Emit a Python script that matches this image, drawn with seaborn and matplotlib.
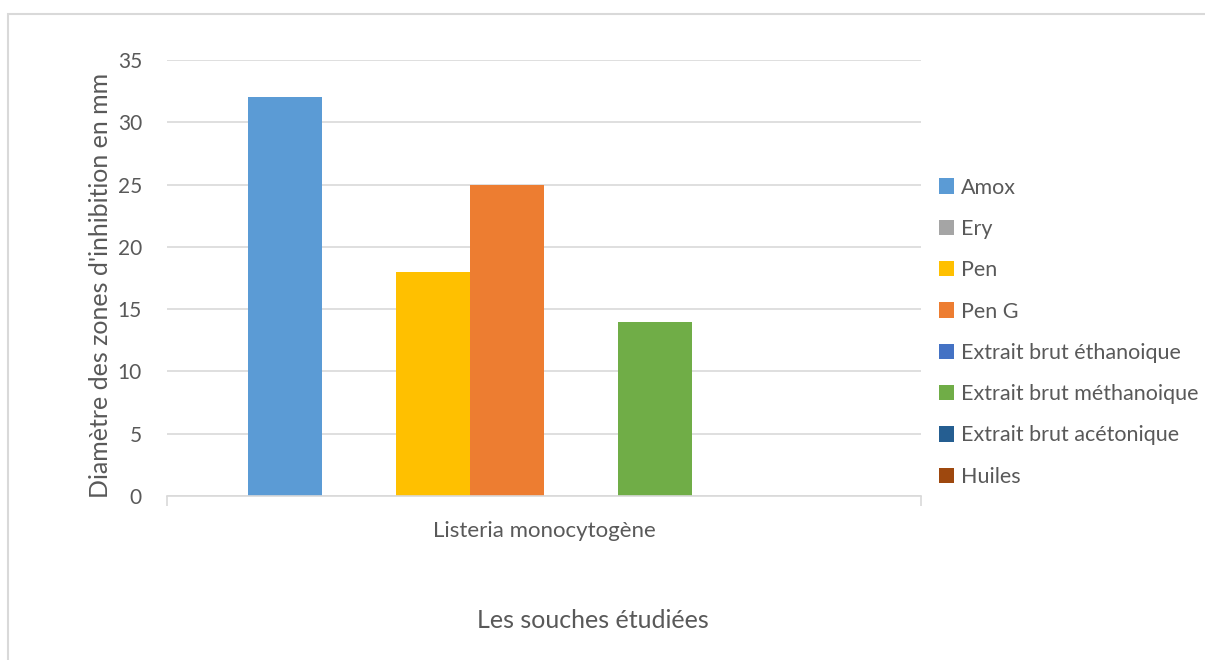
import pandas as pd
import matplotlib.pyplot as plt
import seaborn as sns
from matplotlib.patches import Rectangle, Patch

# donnees
souches = ['Listeria monocytogène']
traitements = ['Amox', 'Ery', 'Pen', 'Pen G', 'Extrait brut éthanoique',
               'Extrait brut méthanoique', 'Extrait brut acétonique', 'Huiles']
diametres = [32, 0, 18, 25, 0, 14, 0, 0]
couleurs = ['#5B9BD5', '#A5A5A5', '#FFC000', '#ED7D31', '#4472C4',
            '#70AD47', '#255E91', '#9E480E']

dados = pd.DataFrame({'souche': souches * len(traitements),
                      'traitement': traitements,
                      'diametre': diametres})

sns.set_theme(style="white")
plt.rcParams['font.family'] = ['Lato', 'DejaVu Sans']
gris = '#595959'

W, H = 1205, 660
x0, x1 = 167, 921
fig = plt.figure(figsize=(W / 100, H / 100), dpi=100)
ax = fig.add_axes([x0 / W, 1 - 496 / H, (x1 - x0) / W, (496 - 60) / H])

sns.barplot(data=dados, x='souche', y='diametre', hue='traitement',
            hue_order=traitements, palette=couleurs, width=0.785,
            saturation=1, linewidth=0, ax=ax, legend=False)

ax.set_xlim(-0.5, 0.5)
ax.set_ylim(0, 35)
ax.set_yticks(range(0, 36, 5))
ax.yaxis.grid(True, color='#D9D9D9', linewidth=1.2)
ax.set_axisbelow(True)
for s in ['top', 'right', 'left']:
    ax.spines[s].set_visible(False)
ax.spines['bottom'].set_color('#D9D9D9')
ax.spines['bottom'].set_linewidth(1.2)
ax.set_xticks([-0.5, 0.5], minor=True)
ax.tick_params(axis='x', which='minor', length=7, width=1.2, color='#D9D9D9', bottom=True)
ax.tick_params(axis='x', which='major', length=0, labelsize=16, labelcolor=gris, pad=18)
ax.tick_params(axis='y', length=0, labelsize=15, labelcolor=gris, pad=18)

ax.set_xlabel('')
ax.set_ylabel("Diamètre des zones d'inhibition en mm", fontsize=18, color=gris)
ax.yaxis.label.set_va('center')
ax.yaxis.set_label_coords((100 - x0) / (x1 - x0), (496 - 285) / 436)
fig.text(593 / W, 1 - 620 / H, 'Les souches étudiées', fontsize=18, color=gris,
         ha='center', va='center')

handles = [Patch(facecolor=c, edgecolor='none') for c in couleurs]
fig.legend(handles, traitements, loc='upper left', bbox_to_anchor=(930 / W, 1 - 169 / H),
           frameon=False, fontsize=15.5, labelcolor=gris, handlelength=0.72,
           handleheight=0.72, handletextpad=0.3, labelspacing=0.99, borderaxespad=0)

# cadre du graphique
fig.add_artist(Rectangle((8 / W, -0.1), 1.2, 1 - 14 / H + 0.1, transform=fig.transFigure,
                         fill=False, edgecolor='#D9D9D9', linewidth=1.5))

fig.savefig('out.png', dpi=100)
